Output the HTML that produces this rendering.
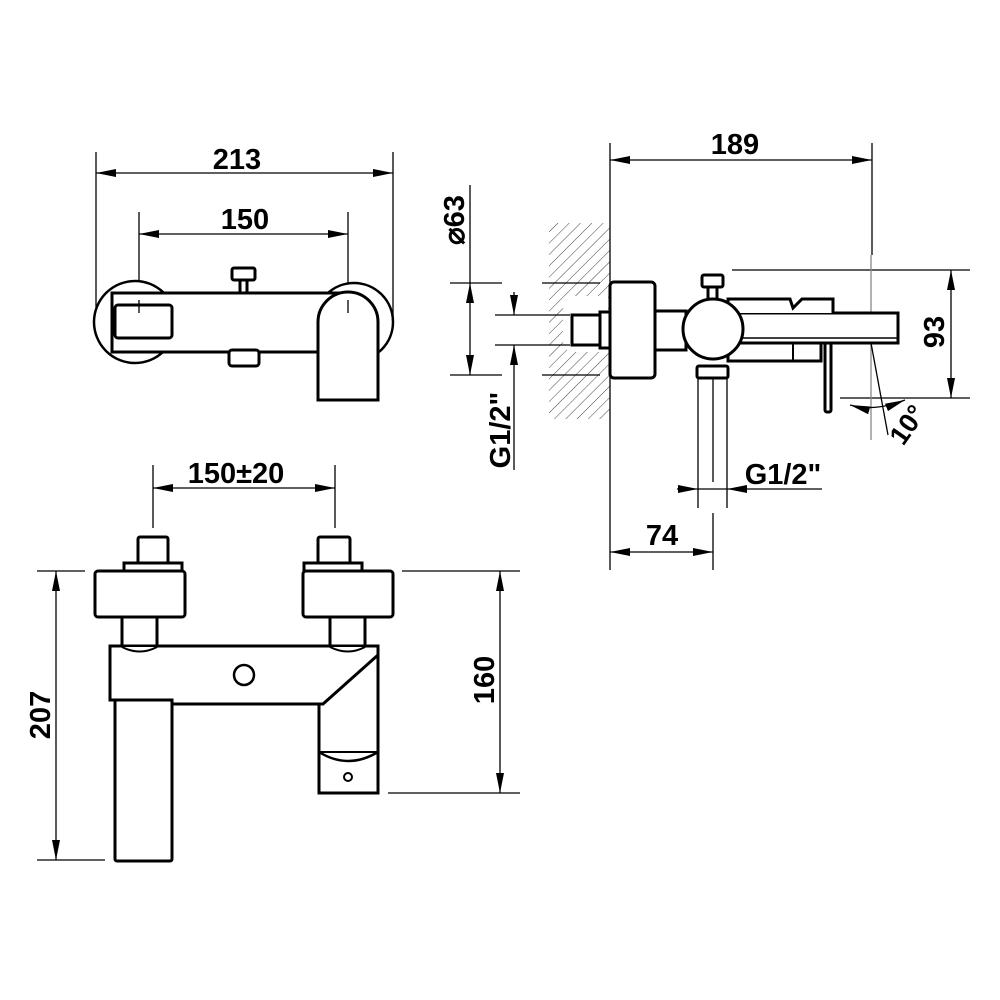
<!DOCTYPE html>
<html><head><meta charset="utf-8"><style>html,body{margin:0;padding:0;background:#fff}svg{display:block}</style></head>
<body>
<svg width="1000" height="1000" viewBox="0 0 1000 1000" xmlns="http://www.w3.org/2000/svg">
<defs>
<marker id="a" viewBox="0 0 20 8" refX="20" refY="4" markerWidth="20" markerHeight="8" markerUnits="userSpaceOnUse" orient="auto-start-reverse"><path d="M0,0 L20,4 L0,8 z" fill="#000"/></marker>
<pattern id="h" width="8" height="8" patternUnits="userSpaceOnUse" patternTransform="rotate(45)"><line x1="0" y1="0" x2="0" y2="8" stroke="#444" stroke-width="1"/></pattern>
</defs>
<g font-family="Liberation Sans, Arial, sans-serif" font-size="29" font-weight="bold" fill="#000">
<!-- TOP VIEW -->
<g stroke="#000" stroke-width="1.3" fill="none">
<line x1="96" y1="152" x2="96" y2="330"/><line x1="393" y1="152" x2="393" y2="320"/>
<line x1="96" y1="173" x2="393" y2="173" marker-start="url(#a)" marker-end="url(#a)"/>
<line x1="139" y1="212" x2="139" y2="313"/><line x1="348" y1="212" x2="348" y2="313"/>
<line x1="139" y1="234" x2="348" y2="234" marker-start="url(#a)" marker-end="url(#a)"/>
</g>
<text x="237" y="169" text-anchor="middle">213</text>
<text x="245" y="229" text-anchor="middle">150</text>
<g stroke="#000" stroke-width="3" fill="#fff">
<circle cx="135" cy="322" r="41" stroke-width="2.5"/>
<circle cx="354" cy="322" r="39" stroke-width="2.5"/>
<rect x="112" y="293" width="236" height="59"/>
<rect x="115" y="305" width="57" height="33" rx="3"/>
<path d="M318,400 L318,322 A30,30 0 0 1 378,322 L378,400 Z"/>
<rect x="232" y="268" width="23" height="12" rx="2"/>
<rect x="240" y="280" width="7" height="13"/>
<rect x="229" y="350" width="30" height="16" rx="3"/>
</g>
<line x1="139" y1="300" x2="139" y2="313" stroke="#000" stroke-width="1.3"/>
<line x1="348" y1="300" x2="348" y2="313" stroke="#000" stroke-width="1.3"/>

<!-- SIDE VIEW -->
<rect x="549" y="223" width="61" height="196" fill="url(#h)"/>
<path d="M608,296 L575,296 Q563,296 563,310 L563,340 Q563,352 575,352 L608,352 Z" fill="#fff"/>
<g stroke="#000" stroke-width="1.3" fill="none">
<line x1="610" y1="143" x2="610" y2="570"/>
<line x1="872" y1="143" x2="872" y2="255"/>
<line x1="610" y1="160" x2="872" y2="160" marker-start="url(#a)" marker-end="url(#a)"/>
<line x1="470" y1="185" x2="470" y2="283"/>
<line x1="470" y1="283" x2="470" y2="375" marker-start="url(#a)" marker-end="url(#a)"/>
<line x1="450" y1="283" x2="502" y2="283"/><line x1="542" y1="283" x2="600" y2="283"/>
<line x1="450" y1="375" x2="502" y2="375"/><line x1="542" y1="375" x2="600" y2="375"/>
<line x1="495" y1="315" x2="570" y2="315"/><line x1="495" y1="345" x2="570" y2="345"/>
<line x1="514" y1="292" x2="514" y2="315" marker-end="url(#a)"/>
<line x1="514" y1="470" x2="514" y2="345" marker-end="url(#a)"/>
<line x1="732" y1="270" x2="970" y2="270"/><line x1="840" y1="398" x2="970" y2="398"/>
<line x1="951" y1="270" x2="951" y2="398" marker-start="url(#a)" marker-end="url(#a)"/>
<line x1="871" y1="255" x2="871" y2="440" stroke="#888"/>
<line x1="871" y1="343" x2="888" y2="435"/>
<path d="M850,405 Q875,412 905,400" marker-start="url(#a)" marker-end="url(#a)"/>
<line x1="698" y1="378" x2="698" y2="508"/><line x1="727" y1="378" x2="727" y2="508"/>
<line x1="713" y1="378" x2="713" y2="482"/><line x1="713" y1="513" x2="713" y2="570"/>
<line x1="677" y1="489" x2="698" y2="489" marker-end="url(#a)"/>
<line x1="822" y1="489" x2="727" y2="489" marker-end="url(#a)"/>
<line x1="698" y1="489" x2="727" y2="489"/>
<line x1="610" y1="552" x2="713" y2="552" marker-start="url(#a)" marker-end="url(#a)"/>
</g>
<g stroke="#000" stroke-width="3" fill="#fff">
<rect x="572" y="315" width="28" height="30"/>
<rect x="600" y="312" width="10" height="36"/>
<rect x="655" y="311" width="31" height="39"/>
<rect x="610" y="282" width="45" height="96" rx="4"/>
<rect x="739" y="313" width="159" height="30"/>
<line x1="739" y1="338" x2="898" y2="338" stroke-width="1.5"/>
<path d="M728,313 L728,299 L790,299 L793,308 L802,299 L833,299 L833,313"/>
<rect x="728" y="343" width="93" height="18"/>
<line x1="793" y1="343" x2="793" y2="361" stroke-width="2"/>
<rect x="825" y="343" width="6" height="69" rx="2"/>
<rect x="708" y="287" width="9" height="14"/>
<rect x="702" y="275" width="21" height="12" rx="2"/>
<rect x="697" y="366" width="31" height="12" rx="2"/>
<circle cx="713" cy="329" r="30"/>
</g>
<text x="735" y="154" text-anchor="middle">189</text>
<text transform="translate(464,220) rotate(-90)" text-anchor="middle">⌀63</text>
<text transform="translate(510,430) rotate(-90)" text-anchor="middle">G1/2"</text>
<text transform="translate(944,332) rotate(-90)" text-anchor="middle">93</text>
<text transform="translate(915,430) rotate(-55)" text-anchor="middle" font-size="27">10°</text>
<text x="783" y="484" text-anchor="middle">G1/2"</text>
<text x="662" y="545" text-anchor="middle">74</text>

<!-- FRONT VIEW -->
<g stroke="#000" stroke-width="1.3" fill="none">
<line x1="153" y1="465" x2="153" y2="528"/><line x1="335" y1="465" x2="335" y2="528"/>
<line x1="153" y1="488" x2="335" y2="488" marker-start="url(#a)" marker-end="url(#a)"/>
<line x1="37" y1="571" x2="85" y2="571"/><line x1="37" y1="860" x2="105" y2="860"/>
<line x1="56" y1="571" x2="56" y2="860" marker-start="url(#a)" marker-end="url(#a)"/>
<line x1="402" y1="571" x2="520" y2="571"/><line x1="388" y1="793" x2="520" y2="793"/>
<line x1="500" y1="571" x2="500" y2="793" marker-start="url(#a)" marker-end="url(#a)"/>
</g>
<text x="236" y="483" text-anchor="middle">150±20</text>
<text transform="translate(50,715) rotate(-90)" text-anchor="middle">207</text>
<text transform="translate(494,680) rotate(-90)" text-anchor="middle">160</text>
<g stroke="#000" stroke-width="3" fill="#fff">
<rect x="138" y="537" width="30" height="31" rx="2"/>
<rect x="318" y="537" width="32" height="31" rx="2"/>
<rect x="124" y="563" width="58" height="8"/>
<rect x="304" y="563" width="58" height="8"/>
<rect x="122" y="615" width="35" height="34"/>
<rect x="330" y="615" width="35" height="34"/>
<rect x="95" y="571" width="90" height="46" rx="3"/>
<rect x="303" y="571" width="90" height="46" rx="3"/>
<path d="M110,646 L378,646 L378,793 L319,793 L319,704 L172,704 L172,700 L110,700 Z"/>
<path d="M110,646 L378,646 L378,655 L323,704 L172,704 L172,700 L110,700 Z"/>
<path d="M122,647 Q140,656 157,647" stroke-width="2"/>
<path d="M330,647 Q348,656 365,647" stroke-width="2"/>
<path d="M319,752 Q348,770 378,752" stroke-width="2.5" fill="none"/>
<line x1="319" y1="752" x2="378" y2="752" stroke-width="2"/>
<circle cx="348" cy="777" r="4" stroke-width="2"/>
<circle cx="244" cy="675" r="10" stroke-width="2.5"/>
<rect x="115" y="700" width="57" height="161" rx="2"/>
</g>
</g>
</svg>
</body></html>
